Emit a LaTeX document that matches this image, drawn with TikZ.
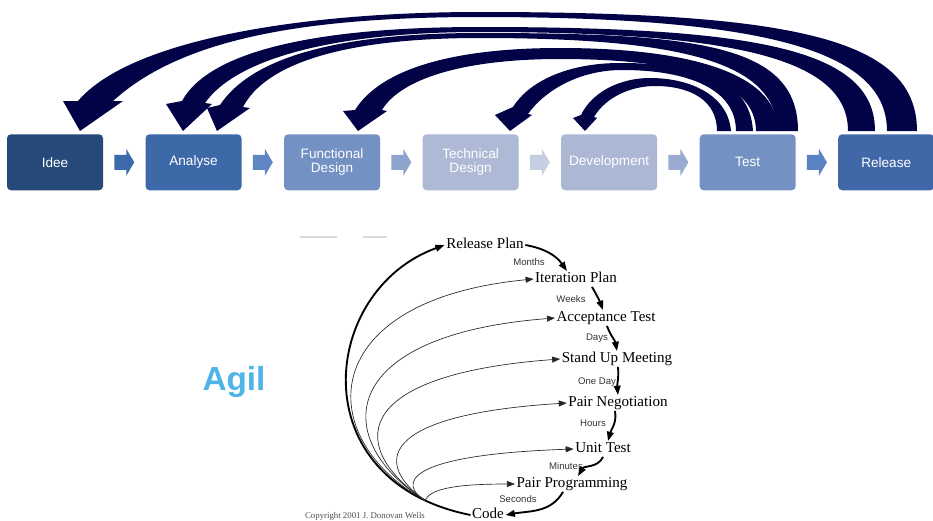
\documentclass[tikz,border=0pt]{standalone}
\usepackage{fontspec}
\setmainfont{Liberation Serif}
\setsansfont{Liberation Sans}
\usepackage{xcolor}
\usetikzlibrary{arrows.meta,calc,positioning}

\definecolor{ideeblue}{RGB}{37,73,120}
\definecolor{analyseblue}{RGB}{62,105,168}
\definecolor{functionalblue}{RGB}{115,145,195}
\definecolor{technicalblue}{RGB}{173,185,213}
\definecolor{developmentblue}{RGB}{171,183,211}
\definecolor{testblue}{RGB}{115,145,195}
\definecolor{releaseblue}{RGB}{64,104,168}
\definecolor{flowa}{RGB}{61,106,170}
\definecolor{flowb}{RGB}{94,134,195}
\definecolor{flowc}{RGB}{142,164,204}
\definecolor{flowd}{RGB}{198,206,226}
\definecolor{flowe}{RGB}{153,171,208}
\definecolor{flowf}{RGB}{91,130,194}
\definecolor{loopnavy}{RGB}{2,2,70}
\definecolor{agilblue}{RGB}{80,180,232}

\tikzset{%
	phase/.style    = {rectangle, rounded corners=3pt, minimum width=72pt, minimum height=42pt, inner sep=1pt, align=center, text=white, font=\sffamily\fontsize{10.2}{10.6}\selectfont}, % Phase
	practice/.style = {inner sep=1pt, text height=7.5pt, text depth=2pt, font=\fontsize{11.3}{13}\selectfont}, % XP practice
	period/.style   = {inner sep=0pt, text=black!80, font=\sffamily\fontsize{7.2}{8}\selectfont}, % Time span
	xpstep/.style   = {line width=1.4pt, -{Triangle[length=7pt,width=5pt]}},
	xpback/.style   = {line width=0.5pt, black!85, -{Triangle[length=6pt,width=4.5pt]}},
	backarrow/.style= {fill=loopnavy},
	flow/.pic       = {\fill[#1] (-10,-7.5) -- (2,-7.5) -- (2,-13.5) -- (10,0) -- (2,13.5) -- (2,7.5) -- (-10,7.5) -- cycle;},
}

\begin{document}
\begin{tikzpicture}[x=0.75pt,y=0.75pt,node distance=31.5pt]
	\useasboundingbox (0,0) rectangle (933,-521);

	\node [phase, fill=ideeblue] (idee) at (55,-162.3) {Idee};
	\node [phase, fill=analyseblue] (analyse) [right=of idee] {Analyse};
	\node [phase, fill=functionalblue] (functional) [right=of analyse] {Functional\\Design};
	\node [phase, fill=technicalblue] (technical) [right=of functional] {Technical\\Design};
	\node [phase, fill=developmentblue] (development) [right=of technical] {Development};
	\node [phase, fill=testblue] (test) [right=of development] {Test};
	\node [phase, fill=releaseblue] (release) [right=of test] {Release};

	\pic at ($(idee.east)!.5!(analyse.west)$) {flow=flowa};
	\pic at ($(analyse.east)!.5!(functional.west)$) {flow=flowb};
	\pic at ($(functional.east)!.5!(technical.west)$) {flow=flowc};
	\pic at ($(technical.east)!.5!(development.west)$) {flow=flowd};
	\pic at ($(development.east)!.5!(test.west)$) {flow=flowe};
	\pic at ($(test.east)!.5!(release.west)$) {flow=flowf};

	% release -> idee
	\fill [backarrow] (917,-131) .. controls (917,-40) and (800,-12) .. (480,-12) .. controls (300,-12) and (130,-40) .. (78,-101)
		-- (63,-101) -- (80,-131) -- (123,-101) -- (113,-101)
		.. controls (180,-40) and (300,-17) .. (480,-17) .. controls (780,-17) and (887,-55) .. (887,-131) -- cycle;
	% release -> analyse
	\fill [backarrow] (875,-131) .. controls (875,-50) and (760,-27) .. (480,-27) .. controls (320,-27) and (210,-50) .. (182,-101)
		-- (166,-104) -- (183,-131) -- (212,-104) -- (205,-103)
		.. controls (235,-60) and (330,-32) .. (480,-32) .. controls (740,-32) and (848,-60) .. (848,-131) -- cycle;
	% test -> analyse
	\fill [backarrow] (798,-131) .. controls (798,-45) and (700,-33) .. (480,-33) .. controls (330,-33) and (250,-60) .. (220,-105)
		-- (207,-108) -- (217,-131) -- (250,-108) -- (243,-107)
		.. controls (265,-65) and (340,-38) .. (480,-38) .. controls (680,-38) and (777,-62) .. (777,-131) -- cycle;
	% test -> functional
	\fill [backarrow] (778,-131) .. controls (778,-70) and (680,-48) .. (560,-48) .. controls (450,-48) and (380,-70) .. (355,-110)
		-- (343,-111) -- (358,-131) -- (387,-111) -- (382,-110)
		.. controls (400,-80) and (460,-59) .. (560,-59) .. controls (680,-59) and (756,-80) .. (756,-131) -- cycle;
	% test -> technical
	\fill [backarrow] (753,-131) .. controls (750,-80) and (700,-63) .. (620,-63) .. controls (570,-63) and (530,-80) .. (513,-107)
		-- (495,-115) -- (510,-131) -- (532,-115) -- (528,-114)
		.. controls (545,-90) and (580,-70) .. (622,-70) .. controls (690,-70) and (736,-90) .. (736,-131) -- cycle;
	% test -> development
	\fill [backarrow] (731,-131) .. controls (728,-95) and (690,-78) .. (650,-78) .. controls (620,-78) and (592,-92) .. (581,-115)
		-- (573,-118) -- (585,-131) -- (597,-118) -- (594,-117)
		.. controls (605,-98) and (630,-86) .. (655,-86) .. controls (690,-86) and (717,-100) .. (717,-131) -- cycle;

	\node [font=\sffamily\bfseries\fontsize{25}{30}\selectfont, text=agilblue] (agil) at (234,-382) {Agil};

	\draw [gray!30, line width=1pt] (300,-237) -- (337,-237);
	\draw [gray!30, line width=1pt] (363,-237) -- (387,-237);

	\node [practice] (rplan) at (485,-245) {Release Plan};
	\node [practice] (iplan) at (576,-279) {Iteration Plan};
	\node [practice] (atest) at (606,-318) {Acceptance Test};
	\node [practice] (standup) at (617,-359) {Stand Up Meeting};
	\node [practice] (pairneg) at (618,-403) {Pair Negotiation};
	\node [practice] (unittest) at (603,-449) {Unit Test};
	\node [practice] (pairprog) at (572,-484) {Pair Programming};
	\node [practice] (code) at (488,-515) {Code};

	\node [period] (months) at (529,-262) {Months};
	\node [period] (weeks) at (571,-299) {Weeks};
	\node [period] (days) at (597,-338) {Days};
	\node [period] (oneday) at (597,-382) {One Day};
	\node [period] (hours) at (593,-423) {Hours};
	\node [period] (minutes) at (566,-466) {Minutes};
	\node [period] (seconds) at (518,-499) {Seconds};

	\node [font=\fontsize{6.6}{7}\selectfont, text=black!70, inner sep=0pt, anchor=north] (copyright) at (365,-512.5) {Copyright 2001 J. Donovan Wells};

	\draw [xpstep] (rplan.east) to[out=-10,in=125] ($(iplan.north)+(-9,0)$);
	\draw [xpstep] ($(iplan.south)+(16,0)$) to[out=-60,in=110] ($(atest.north)+(-3,0)$);
	\draw [xpstep] ($(atest.south)+(1,0)$) to[out=-70,in=100] (standup.north);
	\draw [xpstep] ($(standup.south)+(1,0)$) to[out=-85,in=95] (pairneg.north);
	\draw [xpstep] ($(pairneg.south)+(-3,0)$) to[out=-80,in=75] ($(unittest.north)+(5,0)$);
	\draw [xpstep] (unittest.south) to[out=-115,in=60] ($(pairprog.north)+(6,0)$);
	\draw [xpstep] ($(pairprog.south)+(-9,0)$) to[out=-120,in=10] (code.east);

	\draw [xpstep] (code.west) .. controls (300,-481) and (320,-290) .. coordinate[pos=.1] (hub) (rplan.west);
	\draw [xpback] (hub) .. controls (312,-438) and (315,-300) .. (iplan.west);
	\draw [xpback] (hub) .. controls (330,-440) and (335,-335) .. (atest.west);
	\draw [xpback] (hub) .. controls (350,-450) and (345,-375) .. (standup.west);
	\draw [xpback] (hub) .. controls (375,-465) and (375,-415) .. (pairneg.west);
	\draw [xpback] (hub) .. controls (400,-485) and (400,-455) .. (unittest.west);
	\draw [xpback] (hub) .. controls (430,-490) and (450,-484) .. (pairprog.west);
\end{tikzpicture}
\end{document}
